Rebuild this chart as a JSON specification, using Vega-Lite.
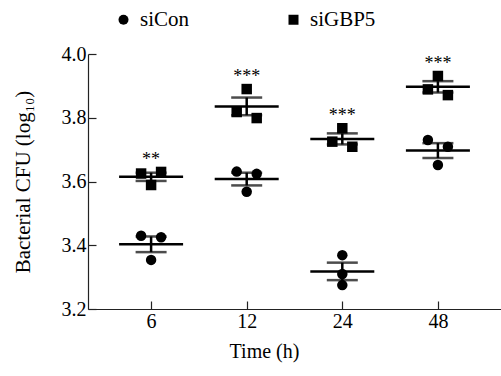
{
  "$schema": "https://vega.github.io/schema/vega-lite/v6.json",
  "width": 413,
  "height": 255,
  "autosize": {"type": "none"},
  "padding": {"left": 88, "top": 54, "right": 0, "bottom": 67},
  "background": "white",
  "config": {
    "font": "Liberation Serif",
    "view": {"stroke": null},
    "axis": {"domainColor": "#222", "tickColor": "#222", "labelColor": "black", "titleColor": "black", "labelFont": "Liberation Serif", "titleFont": "Liberation Serif", "labelFontSize": 20, "titleFontSize": 20, "titleFontWeight": "normal", "grid": false, "domainWidth": 1.2, "tickWidth": 1.2}
  },
  "data": {
    "values": [
      {"time": "6", "group": "siCon", "pos": "L", "value": 3.430, "sig": ""},
      {"time": "6", "group": "siCon", "pos": "R", "value": 3.425, "sig": ""},
      {"time": "6", "group": "siCon", "pos": "C", "value": 3.354, "sig": ""},
      {"time": "6", "group": "siGBP5", "pos": "L", "value": 3.625, "sig": "**"},
      {"time": "6", "group": "siGBP5", "pos": "R", "value": 3.630, "sig": "**"},
      {"time": "6", "group": "siGBP5", "pos": "C", "value": 3.589, "sig": "**"},
      {"time": "12", "group": "siCon", "pos": "L", "value": 3.631, "sig": ""},
      {"time": "12", "group": "siCon", "pos": "R", "value": 3.624, "sig": ""},
      {"time": "12", "group": "siCon", "pos": "C", "value": 3.568, "sig": ""},
      {"time": "12", "group": "siGBP5", "pos": "C", "value": 3.890, "sig": "***"},
      {"time": "12", "group": "siGBP5", "pos": "L", "value": 3.818, "sig": "***"},
      {"time": "12", "group": "siGBP5", "pos": "R", "value": 3.799, "sig": "***"},
      {"time": "24", "group": "siCon", "pos": "C", "value": 3.369, "sig": ""},
      {"time": "24", "group": "siCon", "pos": "C", "value": 3.310, "sig": ""},
      {"time": "24", "group": "siCon", "pos": "C", "value": 3.275, "sig": ""},
      {"time": "24", "group": "siGBP5", "pos": "C", "value": 3.767, "sig": "***"},
      {"time": "24", "group": "siGBP5", "pos": "L", "value": 3.725, "sig": "***"},
      {"time": "24", "group": "siGBP5", "pos": "R", "value": 3.709, "sig": "***"},
      {"time": "48", "group": "siCon", "pos": "L", "value": 3.730, "sig": ""},
      {"time": "48", "group": "siCon", "pos": "R", "value": 3.709, "sig": ""},
      {"time": "48", "group": "siCon", "pos": "C", "value": 3.652, "sig": ""},
      {"time": "48", "group": "siGBP5", "pos": "C", "value": 3.931, "sig": "***"},
      {"time": "48", "group": "siGBP5", "pos": "L", "value": 3.889, "sig": "***"},
      {"time": "48", "group": "siGBP5", "pos": "R", "value": 3.871, "sig": "***"}
    ]
  },
  "encoding": {
    "x": {"field": "time", "type": "ordinal", "sort": ["6", "12", "24", "48"],
      "scale": {"type": "point", "padding": 0.66},
      "axis": {"title": "Time (h)", "labelAngle": 0, "tickSize": -8, "labelPadding": 10, "titleX": 176, "titleY": 48, "titleBaseline": "alphabetic", "titleAnchor": null, "titleAlign": "center"}},
    "y": {"field": "value", "type": "quantitative",
      "scale": {"domain": [3.2, 4.0], "nice": false, "zero": false},
      "axis": {"title": "Bacterial CFU (log₁₀)", "titleFontSize": 21, "values": [3.2, 3.4, 3.6, 3.8, 4.0], "format": ".1f", "tickSize": -8, "labelPadding": 10, "titlePadding": 28}}
  },
  "layer": [
    {
      "mark": {"type": "point", "filled": true, "opacity": 1, "size": 110, "color": "black"},
      "encoding": {
        "xOffset": {"field": "pos", "type": "nominal", "scale": {"type": "point", "domain": ["L", "C", "R"], "range": [-10, 10], "padding": 0}},
        "shape": {"field": "group", "type": "nominal", "scale": {"domain": ["siCon", "siGBP5"], "range": ["circle", "square"]},
          "legend": {"title": null, "orient": "none", "legendX": 25, "legendY": -45, "direction": "horizontal", "columns": 2, "columnPadding": 93, "labelFontSize": 21, "labelFont": "Liberation Serif", "labelColor": "black", "symbolSize": 100, "symbolFillColor": "black", "symbolStrokeColor": "black", "labelOffset": 6}}
      }
    },
    {
      "transform": [{"aggregate": [{"op": "mean", "field": "value", "as": "value"}], "groupby": ["time", "group"]}],
      "mark": {"type": "tick", "color": "black", "size": 64, "thickness": 2.5, "opacity": 1},
      "encoding": {"detail": {"field": "group"}}
    },
    {
      "mark": {"type": "errorbar", "extent": "stderr", "color": "black", "thickness": 2.5, "ticks": {"size": 31, "thickness": 2.5, "color": "black"}},
      "encoding": {"detail": {"field": "group"}}
    },
    {
      "transform": [
        {"filter": "datum.sig != ''"},
        {"aggregate": [{"op": "max", "field": "value", "as": "value"}], "groupby": ["time", "sig"]}
      ],
      "mark": {"type": "text", "fontSize": 18, "dy": -12, "baseline": "middle", "color": "black", "font": "Liberation Serif"},
      "encoding": {"text": {"field": "sig"}}
    }
  ]
}
